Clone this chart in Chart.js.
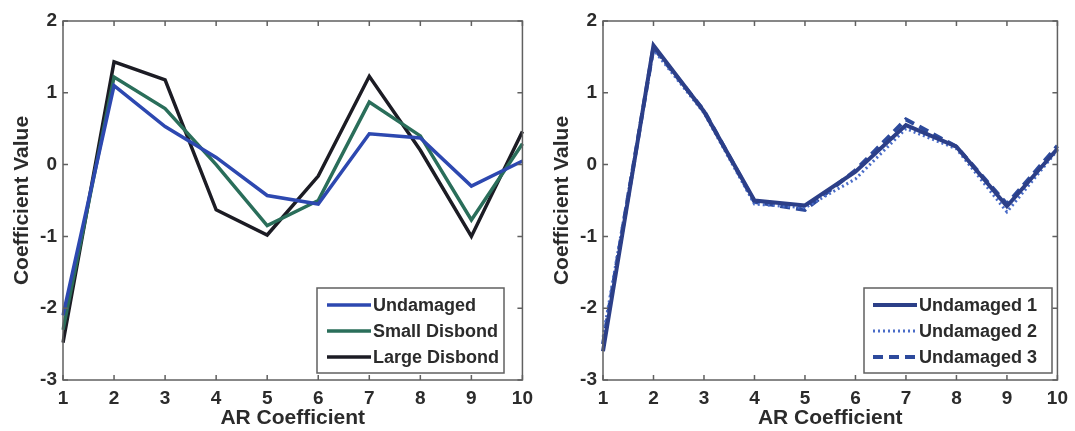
<!DOCTYPE html>
<html>
<head>
    <title>AR Coefficients</title>
    <script src="https://cdn.jsdelivr.net/npm/chart.js"></script>
    <style>
        body { margin: 0; background: #fff; }
        #wrap { position: relative; width: 1075px; height: 431px; }
        .box { position: absolute; top: 0; height: 431px; }
    </style>
</head>
<body>
<div id="wrap">
    <div class="box" style="left:0;width:540px"><canvas id="chartLeft"></canvas></div>
    <div class="box" style="left:540px;width:535px"><canvas id="chartRight"></canvas></div>
</div>
<script>
    const coefficients = ['1', '2', '3', '4', '5', '6', '7', '8', '9', '10'];
    const yTicks = [-3, -2, -1, 0, 1, 2];

    // left plot
    const undamaged = [-2.1, 1.1, 0.53, 0.1, -0.43, -0.55, 0.43, 0.37, -0.3, 0.05];
    const smallDisbond = [-2.3, 1.22, 0.78, 0.0, -0.85, -0.5, 0.87, 0.4, -0.77, 0.29];
    const largeDisbond = [-2.48, 1.43, 1.18, -0.63, -0.98, -0.16, 1.23, 0.2, -1.0, 0.46];

    // right plot
    const undamaged1 = [-2.6, 1.66, 0.74, -0.5, -0.57, -0.1, 0.55, 0.25, -0.58, 0.22];
    const undamaged2 = [-2.4, 1.6, 0.72, -0.55, -0.6, -0.2, 0.5, 0.22, -0.66, 0.2];
    const undamaged3 = [-2.5, 1.63, 0.75, -0.52, -0.63, -0.08, 0.63, 0.25, -0.55, 0.26];

    const textColor = '#2b2b2b';
    const frameColor = '#606060';
    const tickFont = { family: 'Liberation Sans, Arial, sans-serif', size: 19, weight: 'bold' };
    const titleFont = { family: 'Liberation Sans, Arial, sans-serif', size: 21, weight: 'bold' };

    // matlab style frame with inward ticks
    const framePlugin = {
        id: 'frame',
        afterDatasetsDraw(chart) {
            const { ctx, chartArea: a, scales } = chart;
            ctx.save();
            ctx.strokeStyle = frameColor;
            ctx.lineWidth = 1.5;
            ctx.strokeRect(a.left, a.top, a.right - a.left, a.bottom - a.top);
            ctx.beginPath();
            scales.x.ticks.forEach((t, i) => {
                const px = scales.x.getPixelForTick(i);
                ctx.moveTo(px, a.bottom); ctx.lineTo(px, a.bottom - 5);
                ctx.moveTo(px, a.top); ctx.lineTo(px, a.top + 5);
            });
            scales.y.ticks.forEach(t => {
                const py = scales.y.getPixelForValue(t.value);
                ctx.moveTo(a.left, py); ctx.lineTo(a.left + 5, py);
                ctx.moveTo(a.right, py); ctx.lineTo(a.right - 5, py);
            });
            ctx.stroke();
            ctx.restore();
        }
    };

    // legend box in the lower right corner
    const boxLegendPlugin = {
        id: 'boxLegend',
        afterDraw(chart, args, opts) {
            const { ctx } = chart;
            const [x0, y0, x1, y1] = opts.rect;
            ctx.save();
            ctx.fillStyle = '#fff';
            ctx.fillRect(x0, y0, x1 - x0, y1 - y0);
            ctx.strokeStyle = frameColor;
            ctx.lineWidth = 1.5;
            ctx.strokeRect(x0, y0, x1 - x0, y1 - y0);
            chart.data.datasets.forEach((ds, i) => {
                const y = y0 + 17 + i * 26;
                ctx.strokeStyle = ds.borderColor;
                ctx.lineWidth = ds.borderWidth;
                ctx.setLineDash(ds.borderDash || []);
                ctx.beginPath();
                ctx.moveTo(x0 + opts.lineStart, y);
                ctx.lineTo(x0 + opts.lineStart + 44, y);
                ctx.stroke();
                ctx.setLineDash([]);
                ctx.fillStyle = textColor;
                ctx.font = 'bold 18px "Liberation Sans", Arial, sans-serif';
                ctx.textBaseline = 'middle';
                ctx.fillText(ds.label, x0 + opts.lineStart + 46, y + 1);
            });
            ctx.restore();
        }
    };

    function makeChart(id, datasets, legendRect, lineStart) {
        new Chart(document.getElementById(id), {
            type: 'line',
            data: { labels: coefficients, datasets: datasets },
            options: {
                responsive: true,
                maintainAspectRatio: false,
                animation: false,
                layout: { padding: { top: 21, right: 17, left: 0, bottom: 0 } },
                elements: { point: { radius: 0 }, line: { tension: 0 } },
                plugins: {
                    legend: { display: false },
                    tooltip: { enabled: false },
                    boxLegend: { rect: legendRect, lineStart: lineStart }
                },
                scales: {
                    x: {
                        offset: false,
                        grid: { display: false, drawTicks: false },
                        border: { display: false },
                        ticks: { color: textColor, font: tickFont, padding: 7, maxRotation: 0 },
                        title: { display: true, text: 'AR Coefficient', color: textColor, font: titleFont, padding: { top: 0, bottom: 0 } },
                        afterFit: s => { s.height = 51; }
                    },
                    y: {
                        min: -3,
                        max: 2,
                        afterBuildTicks: s => { s.ticks = yTicks.map(v => ({ value: v })); },
                        grid: { display: false, drawTicks: false },
                        border: { display: false },
                        ticks: { color: textColor, font: tickFont, padding: 6 },
                        title: { display: true, text: 'Coefficient Value', color: textColor, font: titleFont, padding: { top: 10, bottom: 0 } },
                        afterFit: s => { s.width = 63; }
                    }
                }
            },
            plugins: [framePlugin, boxLegendPlugin]
        });
    }

    makeChart('chartLeft', [
        { label: 'Undamaged', data: undamaged, borderColor: '#2d48b0', borderWidth: 3.5 },
        { label: 'Small Disbond', data: smallDisbond, borderColor: '#2a6e5a', borderWidth: 3.5 },
        { label: 'Large Disbond', data: largeDisbond, borderColor: '#1c1c24', borderWidth: 3.5 }
    ], [317, 288, 504, 373], 10);

    makeChart('chartRight', [
        { label: 'Undamaged 1', data: undamaged1, borderColor: '#2c3f88', borderWidth: 4 },
        { label: 'Undamaged 2', data: undamaged2, borderColor: '#4a6cc8', borderWidth: 3, borderDash: [2, 3] },
        { label: 'Undamaged 3', data: undamaged3, borderColor: '#2d4a9c', borderWidth: 4, borderDash: [10, 6] }
    ], [324, 288, 512, 373], 9);
</script>
</body>
</html>
